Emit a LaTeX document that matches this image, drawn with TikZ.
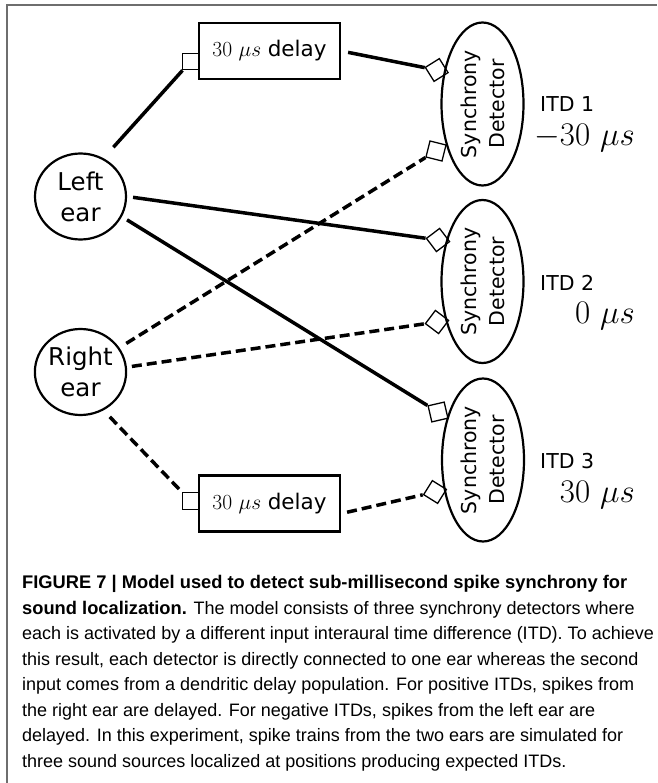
\RequirePackage{fix-cm}
\documentclass[tikz,border=0pt]{standalone}
\usepackage{fontspec}
\usetikzlibrary{shapes.geometric}
\newfontfamily\dejavu{DejaVu Sans}
\newfontfamily\capfont{Liberation Sans}
\definecolor{framegray}{RGB}{110,110,110}
\newcommand{\capbf}[1]{{\fontsize{18.3}{25.5}\selectfont\bfseries #1}}

\begin{document}
\begin{tikzpicture}[x=1pt, y=-1pt,
    ear/.style={draw, ellipse, line width=2.2, minimum width=91, minimum height=86, inner sep=0, align=center, font=\dejavu\fontsize{24.5}{31}\selectfont},
    detector/.style={draw, ellipse, line width=2.2, minimum width=163, minimum height=82, inner sep=0, rotate=90, align=center, font=\dejavu\fontsize{20.5}{28}\selectfont},
    delaybox/.style={draw, rectangle, line width=2.5, minimum width=141, minimum height=56, inner sep=0, font=\fontsize{21.5}{26}\selectfont},
    port/.style={draw, rectangle, line width=1.3, minimum size=16.5, inner sep=0},
    wire/.style={line width=3.5},
    dwire/.style={wire, dash pattern=on 10pt off 5pt},
    itd/.style={anchor=base west, inner sep=0, font=\dejavu\fontsize{20.5}{24}\selectfont},
    usec/.style={anchor=base east, inner sep=0, text height=23, font=\fontsize{33}{40}\selectfont}]
    \useasboundingbox (0,0) rectangle (657,783);
    % frame of the figure
    \draw[framegray, line width=1.5] (7,783) -- (7,5) -- (657,5);

    % ears
    \node[ear] (lear) at (80.5,196.5) {Left\\ear};
    \node[ear] (rear) at (80.5,372) {Right\\ear};

    % delay populations
    \node[delaybox] (dlyA) at (269.5,51) {$30\ \mu s$ {\dejavu delay}};
    \node[delaybox] (dlyB) at (269.5,503.5) {$30\ \mu s$ {\dejavu delay}};

    % synchrony detectors
    \node[detector] (det1) at (482.5,104) {Synchrony\\Detector};
    \node[detector] (det2) at (482.5,281.5) {Synchrony\\Detector};
    \node[detector] (det3) at (483,460) {Synchrony\\Detector};

    % synapse ports
    \node[port] (pA) at (190.5,61.5) {};
    \node[port] (pB) at (190.5,501) {};
    \node[port, rotate=32] (p1a) at (436.7,70) {};
    \node[port, rotate=-14] (p1b) at (436,151) {};
    \node[port, rotate=37] (p2a) at (438,240) {};
    \node[port, rotate=53] (p2b) at (437,322) {};
    \node[port, rotate=13] (p3a) at (438,412) {};
    \node[port, rotate=58] (p3b) at (435,492) {};

    % ITD labels
    \node[itd] (itd1) at (540,111.5) {ITD 1};
    \node[usec] (val1) at (635,146) {$-30\ \mu s$};
    \node[itd] (itd2) at (540,290) {ITD 2};
    \node[usec] (val2) at (635,323.5) {$0\ \mu s$};
    \node[itd] (itd3) at (540,468.5) {ITD 3};
    \node[usec] (val3) at (635,502) {$30\ \mu s$};

    % connections
    \draw[wire, shorten <=14.7] (lear.59) -- (pA);
    \draw[wire, shorten <=6] (lear.0) -- (p2a);
    \draw[wire, shorten <=6] (lear.-26) -- (p3a);
    \draw[dwire, shorten <=8] (rear.32) -- (p1b);
    \draw[dwire, shorten <=5] (rear.6) -- (p2b);
    \draw[dwire, shorten <=9] (rear.-59) -- (pB);
    \draw[wire, shorten <=7] (dlyA.east) -- (p1a);
    \draw[dwire, shorten <=6] (dlyB.-8) -- (p3b);

    % caption
    \node[anchor=north west, inner sep=0, align=left, font=\capfont\fontsize{18}{25.5}\selectfont] (caption) at (22,575.5) {\capbf{FIGURE 7 | Model used to detect sub-millisecond spike synchrony for}\\
    \capbf{sound localization.} The model consists of three synchrony detectors where\\
    each is activated by a different input interaural time difference (ITD). To achieve\\
    this result, each detector is directly connected to one ear whereas the second\\
    input comes from a dendritic delay population. For positive ITDs, spikes from\\
    the right ear are delayed. For negative ITDs, spikes from the left ear are\\
    delayed. In this experiment, spike trains from the two ears are simulated for\\
    three sound sources localized at positions producing expected ITDs.};
\end{tikzpicture}
\end{document}
